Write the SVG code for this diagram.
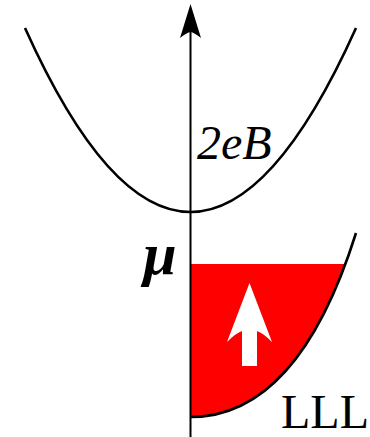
<svg xmlns="http://www.w3.org/2000/svg" width="370" height="437" viewBox="0 0 370 437">
  <style>
    .curve { fill: none; stroke: #000; stroke-width: 2.6; stroke-linecap: butt; }
    .lbl { font-family: "Liberation Serif", "Times New Roman", serif; font-size: 48px; fill: #000; }
  </style>
  <rect width="370" height="437" fill="#fff"/>
  <g id="lll-fill">
    <path d="M190.5,264 L345.4,264 Q288.5,417 190.5,417 Z" fill="#ff0000"/>
    <path d="M249.5,283 L272,342 Q263,333 257,331 L257,366 L242,366 L242,331 Q236,333 227,342 Z" fill="#fff"/>
  </g>
  <g id="upper-band">
    <path class="curve" d="M25,28 Q190.5,396 356,28"/>
  </g>
  <g id="lll-band">
    <path class="curve" d="M190.5,417 Q298,417 356,233"/>
  </g>
  <g id="connectors">
    <line x1="190.5" y1="437" x2="190.5" y2="30" stroke="#000" stroke-width="2"/>
    <path d="M190.5,4 L201,38 Q194,32.5 190.5,32 Q187,32.5 180,38 Z" fill="#000"/>
  </g>
  <g id="label-2eB">
    <text class="lbl" x="197" y="159" font-style="italic">2eB</text>
  </g>
  <g id="label-mu">
    <text class="lbl" x="160" y="274" font-style="italic" font-weight="bold" text-anchor="middle" style="font-size:60px">μ</text>
  </g>
  <g id="label-LLL">
    <text class="lbl" x="281" y="428">LLL</text>
  </g>
</svg>
